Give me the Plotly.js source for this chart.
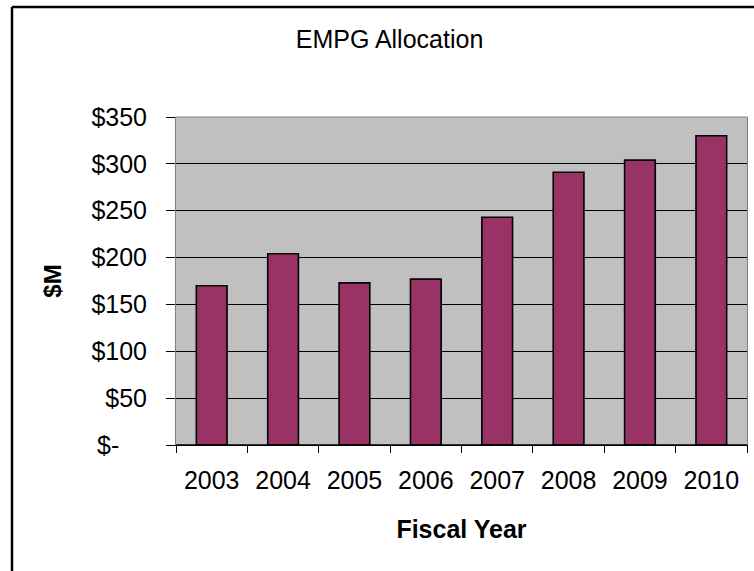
<!DOCTYPE html>
<html>
<head>
<meta charset="utf-8">
<script src="https://cdn.plot.ly/plotly-3.0.1.min.js"></script>
<style>
html,body{margin:0;padding:0;background:#fff;}
#chart{width:754px;height:571px;}
</style>
</head>
<body>
<div id="chart"></div>
<script>
// Data
const years = ["2003","2004","2005","2006","2007","2008","2009","2010"];
const allocation = [170, 204, 173, 177, 243, 291, 304, 330];
const yTickVals = [0, 50, 100, 150, 200, 250, 300, 350];
const yTickText = ["$-\u00a0\u00a0\u00a0\u00a0", "$50", "$100", "$150", "$200", "$250", "$300", "$350"];

const FONT = "Liberation Sans, Arial, sans-serif";

const trace = {
  type: "bar",
  x: years,
  y: allocation,
  marker: {color: "#993366", line: {color: "#000000", width: 1.6}},
  hoverinfo: "x+y"
};

// plot-area geometry (for the outer chart frame)
const mL = 176, mR = 7, mT = 117, mB = 126;
const W = 754 - mL - mR, H = 571 - mT - mB;
const frameX = (12 - mL) / W;
const frameY = 1 + (mT - 7) / H;

const layout = {
  width: 754,
  height: 571,
  margin: {l: mL, r: mR, t: mT, b: mB, pad: 0},
  paper_bgcolor: "#ffffff",
  plot_bgcolor: "#c0c0c0",
  showlegend: false,
  bargap: 0.57,
  font: {family: FONT, size: 25, color: "#000000"},
  title: {
    text: "EMPG Allocation",
    font: {family: FONT, size: 25, color: "#000000"},
    x: 389.5 / 754, xref: "container", xanchor: "center",
    y: 1 - 39 / 571, yref: "container", yanchor: "middle"
  },
  xaxis: {
    type: "category",
    tickson: "boundaries",
    ticks: "outside",
    ticklen: 7,
    tickcolor: "#000000",
    tickwidth: 1,
    showline: true,
    linecolor: "#000000",
    linewidth: 1,
    showgrid: false,
    tickfont: {family: FONT, size: 25, color: "#000000"},
    ticklabelstandoff: 13,
    title: {
      text: "Fiscal Year",
      font: {family: FONT, size: 25, color: "#000000", weight: "bold"},
      standoff: 27
    }
  },
  yaxis: {
    range: [0, 350],
    tickvals: yTickVals,
    ticktext: yTickText,
    ticks: "outside",
    ticklen: 9,
    tickcolor: "#000000",
    tickwidth: 1,
    showgrid: true,
    gridcolor: "#000000",
    gridwidth: 1,
    zeroline: false,
    showline: true,
    linecolor: "#808080",
    linewidth: 1,
    mirror: true,
    tickfont: {family: FONT, size: 25, color: "#000000"},
    ticklabelstandoff: 14,
    title: {
      text: "$M",
      font: {family: FONT, size: 24, color: "#000000", weight: "bold"},
      standoff: 22
    }
  },
  shapes: [
    {type: "line", xref: "paper", yref: "paper", x0: 0, x1: 1, y0: 1, y1: 1,
     line: {color: "#808080", width: 1}, layer: "above"},
    {type: "line", xref: "paper", yref: "paper", x0: 0, x1: 1, y0: 0, y1: 0,
     line: {color: "#000000", width: 1.5}, layer: "above"},
    {type: "line", xref: "paper", yref: "paper", x0: frameX, x1: frameX, y0: -1, y1: frameY,
     line: {color: "#000000", width: 2.5}},
    {type: "line", xref: "paper", yref: "paper", x0: frameX, x1: 1.5, y0: frameY, y1: frameY,
     line: {color: "#000000", width: 2.5}}
  ]
};

Plotly.newPlot("chart", [trace], layout, {displayModeBar: false, staticPlot: true});
</script>
</body>
</html>
